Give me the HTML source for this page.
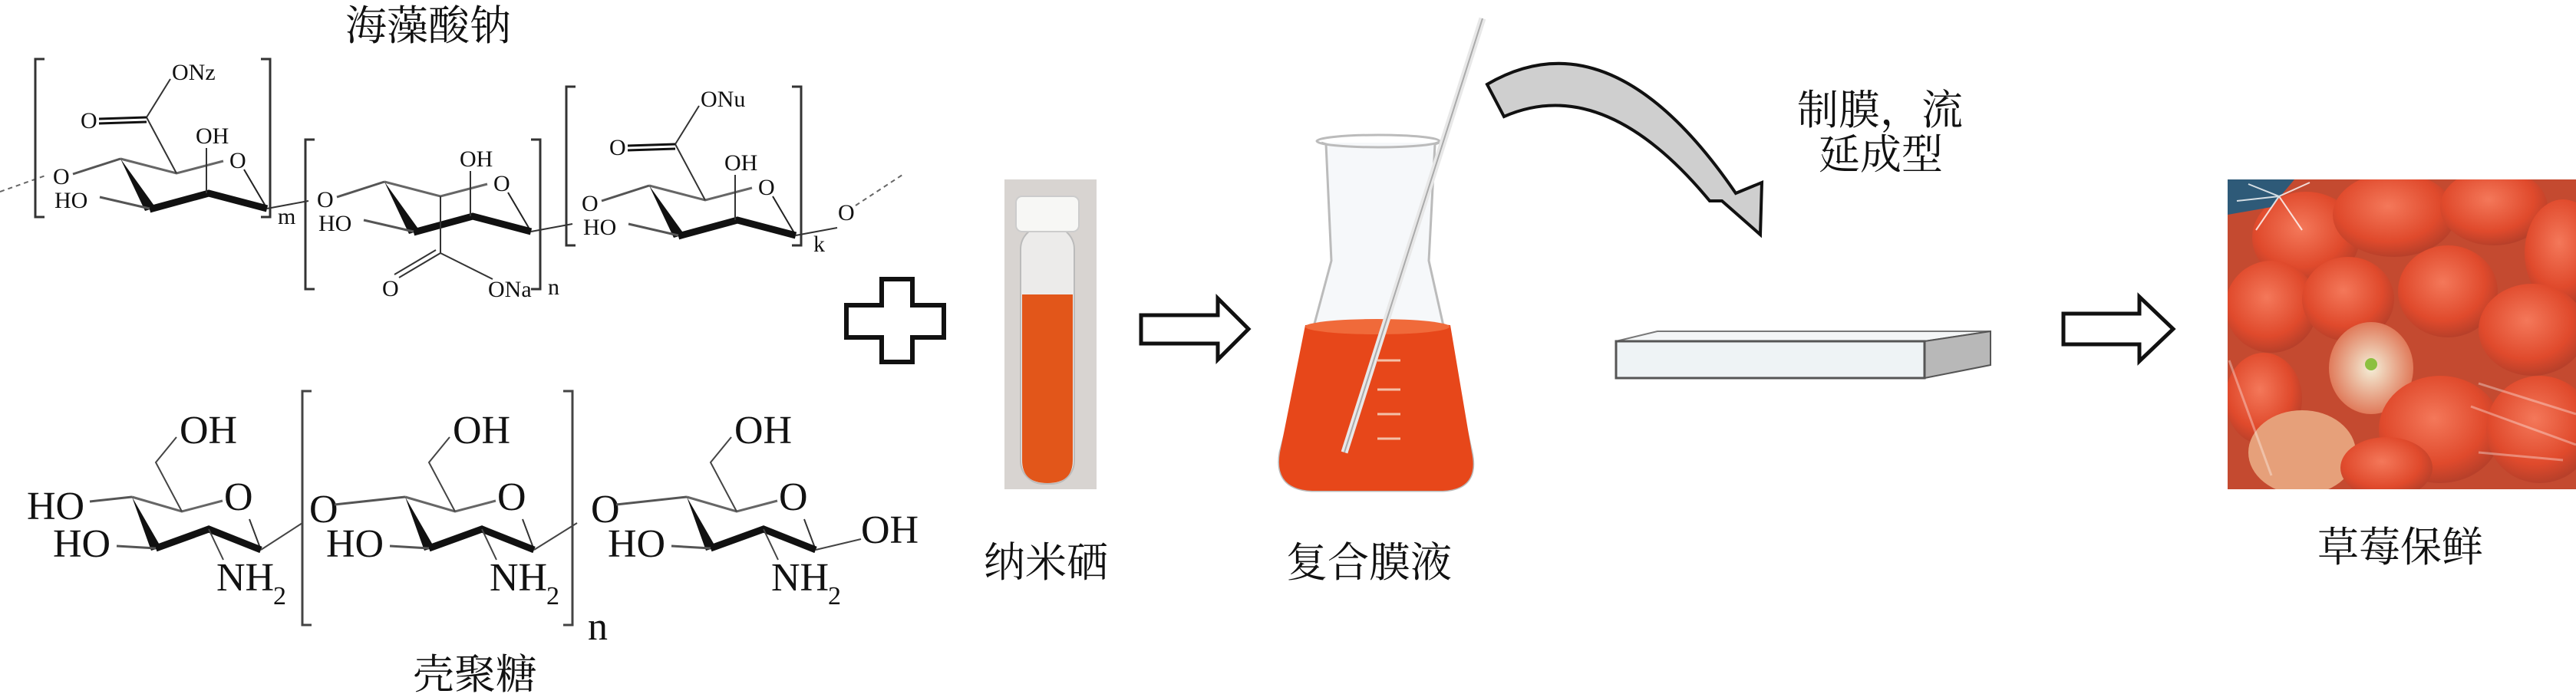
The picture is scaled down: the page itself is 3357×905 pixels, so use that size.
<!DOCTYPE html>
<html><head><meta charset="utf-8">
<style>
html,body{margin:0;padding:0;background:#fff;}
svg{display:block;}
text{font-family:"Liberation Serif","Noto Serif CJK SC",serif;fill:#111;}
.cn{font-family:"Liberation Serif","Noto Serif CJK SC",serif;font-size:54px;}
.s{font-size:30px;}
.b{font-size:52px;}
</style></head>
<body>
<svg width="3357" height="905" viewBox="0 0 3357 905" xmlns="http://www.w3.org/2000/svg">
<defs>
<g id="ra">
  <path d="M0,0 L73,19 L134,3" stroke="#666" stroke-width="3" fill="none"/>
  <path d="M191,65 L161,14" stroke="#222" stroke-width="2" fill="none"/>
  <polygon points="0,0 32,68 46,64" fill="#111"/>
  <polyline points="38,66 115,45 191,65" stroke="#111" stroke-width="9" fill="none" stroke-linejoin="miter"/>
  <path d="M-27,50 L38,65" stroke="#555" stroke-width="3"/>
  <text class="s" x="-86" y="64">HO</text>
  <path d="M112,-14 L112,45" stroke="#333" stroke-width="2"/>
  <text class="s" x="98" y="-20">OH</text>
  <text class="s" x="142" y="12">O</text>
  <path d="M-62,20 L0,0" stroke="#555" stroke-width="3"/>
  <text class="s" x="-88" y="33">O</text>
  <path d="M191,65 L245,55" stroke="#333" stroke-width="2"/>
</g>
<g id="carb">
  <path d="M73,19 L34,-54 L65,-104" stroke="#333" stroke-width="2" fill="none"/>
  <path d="M34,-54 L-28,-52 M34,-48 L-28,-46" stroke="#111" stroke-width="3"/>
  <text class="s" x="-52" y="-40">O</text>
</g>
<g id="rc">
  <path d="M0,0 L65,19 L118,5" stroke="#666" stroke-width="3" fill="none"/>
  <path d="M168,69 L153,29" stroke="#333" stroke-width="2"/>
  <polygon points="0,0 25,70 38,66" fill="#111"/>
  <polyline points="31,67 100,42 168,69" stroke="#111" stroke-width="9" fill="none"/>
  <path d="M-20,64 L31,67" stroke="#555" stroke-width="3"/>
  <text class="b" x="-103" y="78">HO</text>
  <path d="M65,19 L31,-45 L58,-78" stroke="#444" stroke-width="2" fill="none"/>
  <text class="b" x="62" y="-70">OH</text>
  <text class="b" x="120" y="17">O</text>
  <path d="M100,42 L119,82" stroke="#444" stroke-width="2"/>
  <text class="b" x="110" y="122">NH</text>
  <text x="184" y="140" style="font-size:34px">2</text>
</g>
</defs>

<!-- alginate -->
<text class="cn" x="450" y="52">海藻酸钠</text>
<path d="M0,250 L62,228" stroke="#666" stroke-width="2" stroke-dasharray="6,5"/>
<use href="#ra" x="157" y="207"/>
<use href="#carb" x="157" y="207"/>
<text class="s" x="224" y="104">ONz</text>
<use href="#ra" x="501" y="237"/>
<path d="M574,256 L574,330 L520,362 M568,326 L514,358 M574,330 L642,364" stroke="#333" stroke-width="2" fill="none"/>
<text class="s" x="498" y="386">O</text>
<text class="s" x="636" y="387">ONa</text>
<use href="#ra" x="846" y="242"/>
<use href="#carb" x="846" y="242"/>
<text class="s" x="913" y="139">ONu</text>
<text class="s" x="1092" y="287">O</text>
<path d="M1115,268 L1176,228" stroke="#666" stroke-width="2" stroke-dasharray="6,5"/>
<g stroke="#333" stroke-width="3" fill="none">
<path d="M58,77 L46,77 L46,283 L58,283 M340,77 L352,77 L352,283 L340,283"/>
<path d="M410,182 L398,182 L398,377 L410,377 M692,182 L704,182 L704,377 L692,377"/>
<path d="M750,113 L738,113 L738,320 L750,320 M1032,113 L1044,113 L1044,320 L1032,320"/>
</g>
<text class="s" x="362" y="292">m</text>
<text class="s" x="714" y="384">n</text>
<text class="s" x="1060" y="328">k</text>

<!-- chitosan -->
<use href="#rc" x="172" y="648"/>
<path d="M172,648 L117,654" stroke="#555" stroke-width="3"/>
<text class="b" x="35" y="677">HO</text>
<path d="M340,717 L394,682" stroke="#444" stroke-width="2"/>
<use href="#rc" x="528" y="648"/>
<text class="b" x="403" y="681">O</text>
<path d="M436,658 L528,648" stroke="#555" stroke-width="3"/>
<path d="M696,717 L752,682" stroke="#444" stroke-width="2"/>
<use href="#rc" x="895" y="648"/>
<text class="b" x="770" y="681">O</text>
<path d="M803,658 L895,648" stroke="#555" stroke-width="3"/>
<path d="M1063,717 L1122,703" stroke="#444" stroke-width="2"/>
<text class="b" x="1122" y="708">OH</text>
<g stroke="#444" stroke-width="3" fill="none">
<path d="M406,510 L394,510 L394,815 L406,815 M734,510 L746,510 L746,815 L734,815"/>
</g>
<text class="b" x="766" y="834">n</text>
<text class="cn" x="538" y="898">壳聚糖</text>

<!-- plus -->
<path d="M1149,364 L1189,364 L1189,398 L1230,398 L1230,440 L1189,440 L1189,472 L1149,472 L1149,440 L1103,440 L1103,398 L1149,398 Z" fill="#fff" stroke="#111" stroke-width="6"/>

<!-- test tube photo -->
<rect x="1309" y="234" width="120" height="404" fill="#d8d4d1"/>
<rect x="1330" y="295" width="70" height="336" rx="30" fill="#ecebea" stroke="#bbb" stroke-width="2"/>
<path d="M1332,384 L1398,384 L1398,600 Q1398,630 1365,630 Q1332,630 1332,600 Z" fill="#e2561a"/>
<rect x="1324" y="256" width="82" height="46" rx="8" fill="#f7f7f5" stroke="#ccc" stroke-width="2"/>
<text class="cn" x="1282" y="752">纳米硒</text>

<!-- arrow 1 -->
<path d="M1487,411 L1587,411 L1587,389 L1627,429 L1587,469 L1587,448 L1487,448 Z" fill="#fff" stroke="#111" stroke-width="5"/>

<!-- flask -->
<path d="M1722,186 L1728,188 L1735,340 L1668,590 Q1660,638 1710,640 L1880,640 Q1928,638 1918,590 L1862,340 L1870,188 L1876,186" fill="#f6f8fa" stroke="#bbb" stroke-width="3"/>
<path d="M1701,424 Q1795,414 1890,424 L1918,590 Q1928,638 1880,640 L1710,640 Q1660,638 1668,590 Z" fill="#e7471a"/>
<ellipse cx="1795" cy="426" rx="94" ry="10" fill="#f06a3a"/>
<ellipse cx="1796" cy="184" rx="80" ry="8" fill="none" stroke="#bbb" stroke-width="3"/>
<path d="M1932,24 L1752,590" stroke="#e8e8e8" stroke-width="9"/>
<path d="M1932,24 L1752,590" stroke="#aaa" stroke-width="2" fill="none"/>
<g stroke="#f3c0a8" stroke-width="3"><path d="M1795,470 L1825,470 M1795,508 L1825,508 M1795,540 L1825,540 M1795,572 L1825,572"/></g>
<text class="cn" x="1676" y="752">复合膜液</text>

<!-- curved arrow -->
<path d="M1938,110 Q2100,15 2262,252 L2296,238 L2294,306 L2244,262 L2228,262 Q2090,95 1960,152 Z" fill="#cfcfcf" stroke="#111" stroke-width="4"/>
<text class="cn" x="2342" y="162">制膜，流</text>
<text class="cn" x="2370" y="220">延成型</text>

<!-- slab -->
<path d="M2106,445 L2160,432 L2594,432 L2508,445 Z" fill="#f4f6f7" stroke="#777" stroke-width="2"/>
<path d="M2508,445 L2594,432 L2594,476 L2508,493 Z" fill="#b8b8b8" stroke="#555" stroke-width="2"/>
<rect x="2106" y="445" width="402" height="48" fill="#eef3f5" stroke="#555" stroke-width="3"/>

<!-- arrow 3 -->
<path d="M2689,409 L2788,409 L2788,387 L2832,429 L2788,471 L2788,449 L2689,449 Z" fill="#fff" stroke="#111" stroke-width="5"/>

<!-- strawberries -->
<defs>
<radialGradient id="sb" cx="45%" cy="40%" r="60%"><stop offset="0" stop-color="#f4785a"/><stop offset="0.7" stop-color="#e04a2c"/><stop offset="1" stop-color="#b8402a"/></radialGradient>
<radialGradient id="wt" cx="50%" cy="50%" r="50%"><stop offset="0" stop-color="#f4efd8"/><stop offset="1" stop-color="#e07a5a"/></radialGradient>
<clipPath id="cp"><rect x="2903" y="234" width="454" height="404"/></clipPath>
</defs>
<g clip-path="url(#cp)">
<rect x="2903" y="234" width="454" height="404" fill="#c44a30"/>
<ellipse cx="3005" cy="310" rx="70" ry="60" fill="url(#sb)"/>
<ellipse cx="3120" cy="280" rx="80" ry="55" fill="url(#sb)"/>
<ellipse cx="3250" cy="270" rx="70" ry="50" fill="url(#sb)"/>
<ellipse cx="3340" cy="330" rx="50" ry="70" fill="url(#sb)"/>
<ellipse cx="2960" cy="400" rx="60" ry="60" fill="url(#sb)"/>
<ellipse cx="3060" cy="390" rx="60" ry="55" fill="url(#sb)"/>
<ellipse cx="3190" cy="380" rx="65" ry="60" fill="url(#sb)"/>
<ellipse cx="3300" cy="430" rx="70" ry="60" fill="url(#sb)"/>
<ellipse cx="3090" cy="480" rx="55" ry="60" fill="url(#wt)"/>
<ellipse cx="2950" cy="520" rx="50" ry="60" fill="url(#sb)"/>
<ellipse cx="3000" cy="590" rx="70" ry="55" fill="#e6a07a"/>
<ellipse cx="3180" cy="560" rx="80" ry="70" fill="url(#sb)"/>
<ellipse cx="3310" cy="560" rx="70" ry="70" fill="url(#sb)"/>
<ellipse cx="3110" cy="610" rx="60" ry="40" fill="url(#sb)"/>
<circle cx="3090" cy="475" r="8" fill="#8cc040"/>
<path d="M2903,234 L2990,234 L2960,270 L2903,280 Z" fill="#2e5a78"/>
<g stroke="#fff" stroke-width="2" opacity="0.8"><path d="M2970,256 L2930,240 M2970,256 L3010,238 M2970,256 L2940,300 M2970,256 L3000,300 M2970,256 L2915,262"/></g>
<g stroke="#fff" stroke-width="3" opacity="0.35" fill="none"><path d="M3230,500 L3357,540 M3220,530 L3357,580 M3230,590 L3340,600 M2905,470 L2960,620"/></g>
</g>
<text class="cn" x="3020" y="732">草莓保鲜</text>
</svg>
</body></html>
